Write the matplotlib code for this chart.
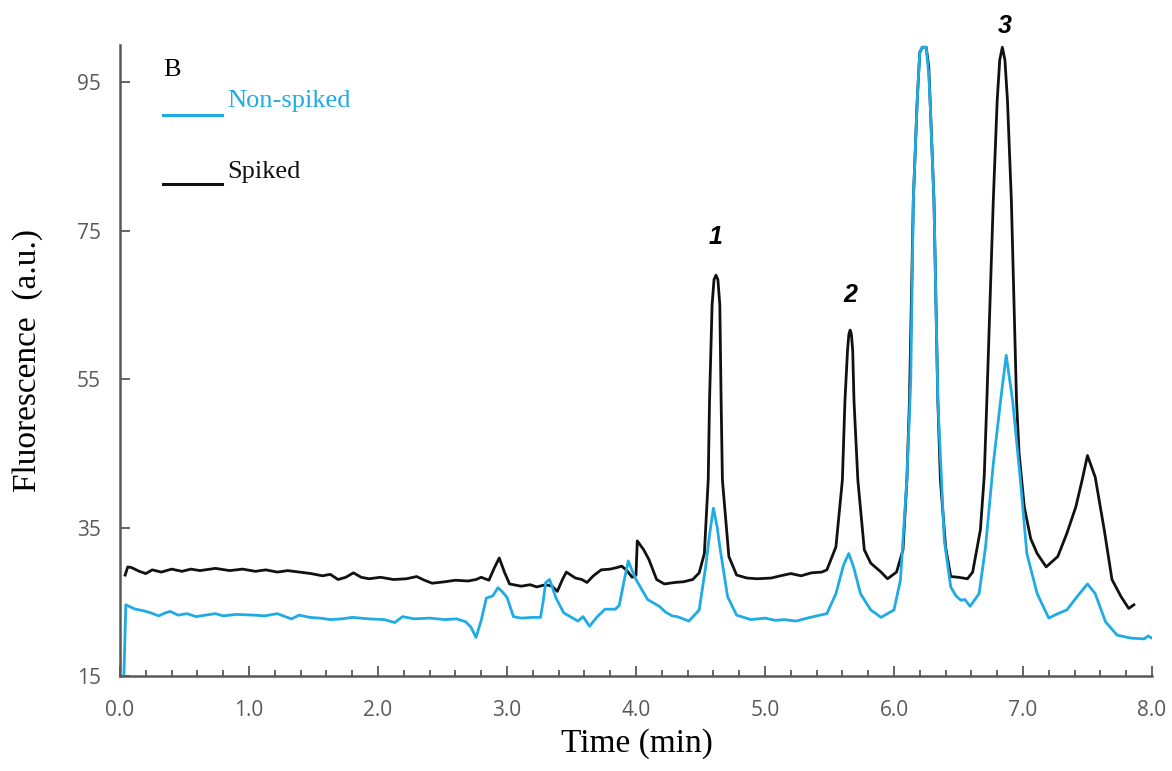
import matplotlib
matplotlib.use("Agg")
import matplotlib.pyplot as plt
from matplotlib.ticker import MultipleLocator

# chromatogram (time in min, fluorescence in a.u.)
spiked_t = [0.04, 0.06, 0.09, 0.15, 0.20, 0.25, 0.32, 0.40, 0.48, 0.55, 0.62, 0.74, 0.85, 0.95,
            1.05, 1.13, 1.22, 1.30, 1.39, 1.48, 1.57, 1.63, 1.69, 1.75, 1.81, 1.87, 1.93, 2.02,
            2.12, 2.22, 2.30, 2.36, 2.42, 2.52, 2.60, 2.70, 2.76, 2.80, 2.86, 2.90, 2.94, 2.98,
            3.02, 3.11, 3.18, 3.23, 3.30, 3.35, 3.39, 3.43, 3.46, 3.53, 3.58, 3.62, 3.67, 3.73,
            3.80, 3.85, 3.89, 3.93, 3.97, 4.00, 4.01, 4.06, 4.10, 4.16, 4.22, 4.30, 4.37, 4.44,
            4.49, 4.53, 4.56, 4.57, 4.59, 4.605, 4.62, 4.635, 4.65, 4.66, 4.67, 4.72, 4.78, 4.86,
            4.94, 5.05, 5.12, 5.20, 5.28, 5.36, 5.44, 5.48, 5.55, 5.60, 5.62, 5.64, 5.65, 5.66,
            5.67, 5.68, 5.69, 5.72, 5.77, 5.82, 5.90, 5.95, 6.02, 6.07, 6.10, 6.12, 6.15, 6.18,
            6.20, 6.22, 6.25, 6.27, 6.28, 6.31, 6.34, 6.36, 6.40, 6.44, 6.50, 6.57, 6.61, 6.67,
            6.70, 6.72, 6.77, 6.80, 6.82, 6.84, 6.86, 6.88, 6.91, 6.95, 6.97, 7.01, 7.06, 7.11,
            7.18, 7.27, 7.34, 7.41, 7.46, 7.50, 7.56, 7.63, 7.69, 7.76, 7.82, 7.86]
spiked_v = [28.6, 29.7, 29.6, 29.1, 28.8, 29.3, 29.0, 29.4, 29.1, 29.4, 29.2, 29.5, 29.2, 29.4,
            29.1, 29.3, 29.0, 29.2, 29.0, 28.8, 28.5, 28.7, 28.0, 28.3, 28.9, 28.3, 28.1, 28.3,
            28.0, 28.1, 28.4, 27.9, 27.5, 27.7, 27.9, 27.8, 28.0, 28.3, 27.9, 29.5, 30.9, 29.0,
            27.4, 27.1, 27.3, 27.0, 27.3, 27.1, 26.4, 28.0, 29.0, 28.2, 28.0, 27.6, 28.5, 29.3,
            29.4, 29.6, 29.8, 29.2, 28.3, 28.6, 33.2, 32.0, 30.7, 28.0, 27.4, 27.6, 27.7, 28.0,
            28.9, 31.5, 41.4, 52.0, 65.0, 68.4, 69.0, 68.4, 65.0, 52.0, 41.4, 31.1, 28.6, 28.2,
            28.1, 28.2, 28.5, 28.8, 28.5, 28.9, 29.0, 29.3, 32.4, 41.4, 52.1, 58.9, 61.0, 61.6,
            61.0, 58.9, 52.1, 41.4, 32.0, 30.2, 29.0, 28.1, 29.0, 32.0, 41.4, 52.1, 79.1, 92.5,
            99.0, 99.7, 99.7, 97.0, 92.5, 79.1, 52.1, 41.4, 32.4, 28.4, 28.3, 28.1, 29.0, 34.7,
            42.0, 52.1, 79.1, 92.5, 98.0, 99.7, 98.0, 92.5, 79.1, 52.1, 45.0, 37.8, 33.5, 31.5,
            29.7, 31.1, 34.2, 37.8, 41.5, 44.7, 41.8, 34.7, 28.0, 25.7, 24.1, 24.6]

nonspiked_t = [0.03, 0.045, 0.08, 0.12, 0.18, 0.24, 0.30, 0.35, 0.39, 0.45, 0.52, 0.59, 0.66, 0.74,
               0.80, 0.90, 1.04, 1.12, 1.22, 1.28, 1.33, 1.39, 1.47, 1.55, 1.63, 1.72, 1.80, 1.93,
               2.05, 2.13, 2.19, 2.28, 2.40, 2.52, 2.61, 2.68, 2.72, 2.76, 2.80, 2.84, 2.89, 2.93,
               2.96, 3.00, 3.05, 3.11, 3.20, 3.26, 3.28, 3.30, 3.33, 3.38, 3.44, 3.50, 3.55, 3.59,
               3.64, 3.70, 3.76, 3.84, 3.87, 3.91, 3.94, 3.97, 4.00, 4.05, 4.09, 4.14, 4.18, 4.23,
               4.28, 4.32, 4.41, 4.49, 4.54, 4.57, 4.60, 4.63, 4.65, 4.71, 4.78, 4.89, 5.00, 5.08,
               5.15, 5.24, 5.35, 5.48, 5.55, 5.61, 5.65, 5.69, 5.74, 5.82, 5.90, 6.00, 6.05, 6.10,
               6.13, 6.15, 6.18, 6.20, 6.22, 6.25, 6.27, 6.28, 6.31, 6.34, 6.39, 6.44, 6.48, 6.52,
               6.55, 6.59, 6.66, 6.71, 6.77, 6.83, 6.87, 6.92, 6.98, 7.03, 7.11, 7.20, 7.27, 7.34,
               7.42, 7.50, 7.56, 7.64, 7.73, 7.84, 7.94, 7.97, 8.00]
nonspiked_v = [15.0, 24.6, 24.3, 24.0, 23.8, 23.5, 23.1, 23.5, 23.7, 23.2, 23.4, 23.0, 23.2, 23.4,
               23.1, 23.3, 23.2, 23.1, 23.4, 23.0, 22.7, 23.2, 22.9, 22.8, 22.6, 22.7, 22.9, 22.7,
               22.6, 22.2, 23.0, 22.7, 22.8, 22.6, 22.7, 22.3, 21.6, 20.2, 22.5, 25.5, 25.8, 26.9,
               26.4, 25.6, 23.0, 22.8, 22.9, 22.9, 25.0, 27.6, 28.0, 25.5, 23.5, 22.9, 22.4, 23.0,
               21.7, 23.0, 24.0, 24.0, 24.5, 28.0, 30.5, 29.2, 28.0, 26.5, 25.3, 24.8, 24.4, 23.6,
               23.1, 23.0, 22.4, 23.9, 29.7, 34.0, 37.6, 35.0, 32.4, 25.7, 23.2, 22.6, 22.8, 22.5,
               22.6, 22.4, 22.9, 23.4, 26.1, 30.0, 31.5, 29.5, 26.1, 23.9, 22.9, 23.9, 27.9, 41.4,
               54.8, 79.1, 92.5, 99.0, 99.7, 99.7, 96.0, 92.5, 79.1, 52.1, 33.3, 27.0, 25.8, 25.2,
               25.3, 24.4, 26.1, 32.4, 43.6, 52.6, 58.2, 52.1, 41.4, 31.5, 26.1, 22.8, 23.4, 23.9,
               25.7, 27.4, 26.1, 22.3, 20.5, 20.1, 20.0, 20.4, 20.1]

peak_labels = ["1", "2", "3"]
peak_t = [4.62, 5.66, 6.86]
peak_v = [74.1, 66.3, 102.6]

x_ticks = [0, 1, 2, 3, 4, 5, 6, 7, 8]
y_ticks = [15, 35, 55, 75, 95]

BLUE = "#1fabe3"
BLACK = "#111111"
GREY = "#595959"

fig = plt.figure(figsize=(11.72, 7.71), dpi=100)
ax = fig.add_axes([0.1024, 0.1232, 0.8805, 0.8184])

ax.plot(spiked_t, spiked_v, color=BLACK, lw=2.0)
ax.plot(nonspiked_t, nonspiked_v, color=BLUE, lw=2.0)

ax.set_xlim(0, 8)
ax.set_ylim(15, 100)
ax.set_xticks(x_ticks)
ax.set_xticklabels([f"{x:.1f}" for x in x_ticks])
ax.xaxis.set_minor_locator(MultipleLocator(0.2))
ax.set_yticks(y_ticks)

for s in ["top", "right"]:
    ax.spines[s].set_visible(False)
for s in ["left", "bottom"]:
    ax.spines[s].set_color(GREY)
    ax.spines[s].set_linewidth(1.8)

ax.tick_params(axis="both", which="major", direction="in", length=7, width=1.3,
               color=GREY, labelcolor=GREY, labelsize=15)
ax.tick_params(axis="x", which="minor", direction="in", length=4, width=1.3, color=GREY)
ax.tick_params(axis="x", which="major", pad=17)
ax.tick_params(axis="y", which="major", pad=14)
for lab in ax.get_xticklabels() + ax.get_yticklabels():
    lab.set_family("Open Sans")

serif = "Liberation Serif"
ax.set_xlabel("Time (min)", fontsize=24, family=serif)
ax.set_ylabel("Fluorescence  (a.u.)", fontsize=24, family=serif)
ax.xaxis.set_label_coords(0.501, -0.083)
ax.yaxis.set_label_coords(-0.075, 0.5)

for lab, t, v in zip(peak_labels, peak_t, peak_v):
    ax.text(t, v, lab, ha="center", va="center", fontsize=18, fontweight="bold",
            fontstyle="italic", family="Liberation Sans", clip_on=False)

# hand-made legend like the original
ax.text(0.0417, 0.960, "B", transform=ax.transAxes, fontsize=19, family=serif,
        ha="left", va="center")
ax.plot([0.0417, 0.099], [0.889, 0.889], transform=ax.transAxes, color=BLUE, lw=2.2)
ax.text(0.104, 0.911, "Non-spiked", transform=ax.transAxes, fontsize=19, family=serif,
        color=BLUE, ha="left", va="center")
ax.plot([0.0417, 0.099], [0.780, 0.780], transform=ax.transAxes, color=BLACK, lw=2.2)
ax.text(0.104, 0.799, "Spiked", transform=ax.transAxes, fontsize=19, family=serif,
        color=BLACK, ha="left", va="center")

fig.savefig("out.png", dpi=100)
